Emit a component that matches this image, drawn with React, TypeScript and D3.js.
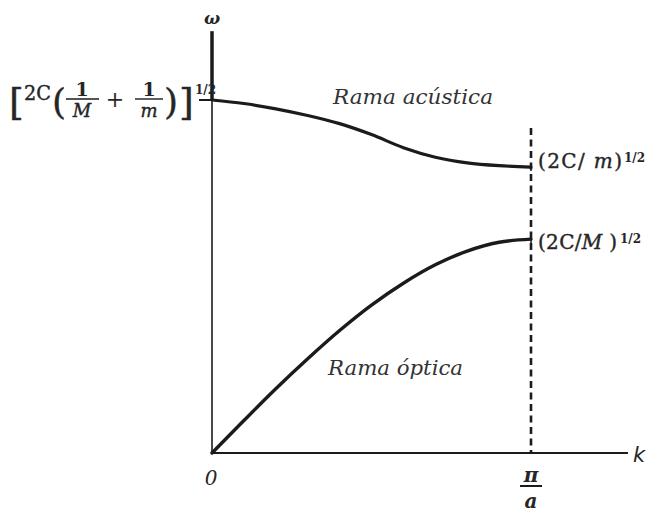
import React from "react";
import * as d3 from "d3";

// Wave number in units of pi/a, frequency in units of [2C(1/M+1/m)]^1/2
const kUpper = [0, 0.1, 0.2, 0.3, 0.4, 0.5, 0.6, 0.7, 0.8, 0.9, 1.0];
const wUpper = [1.0, 0.99, 0.975, 0.956, 0.933, 0.902, 0.865, 0.838, 0.822, 0.814, 0.81];

const kLower = [0, 0.1, 0.2, 0.3, 0.4, 0.5, 0.6, 0.7, 0.8, 0.9, 1.0];
const wLower = [0, 0.092, 0.182, 0.267, 0.347, 0.419, 0.481, 0.533, 0.572, 0.597, 0.606];

const branchLabels = ["Rama acústica", "Rama óptica"];
const xAxisMax = 1.304;
const yAxisMax = 1.195;
const kBoundary = 1.0;

const W = 652;
const H = 513;
const INK = "#1b1b1b";
const TXT = "#262626";
const serif = "'DejaVu Serif', serif";

export default function App() {
  const x = d3.scaleLinear().domain([0, 1]).range([212, 531]);
  const y = d3.scaleLinear().domain([0, 1]).range([453, 100]);

  const line = d3
    .line<[number, number]>()
    .x((d) => x(d[0]))
    .y((d) => y(d[1]))
    .curve(d3.curveCatmullRom.alpha(0.5));

  const upper = line(kUpper.map((k, i) => [k, wUpper[i]]) as [number, number][]) || "";
  const lower = line(kLower.map((k, i) => [k, wLower[i]]) as [number, number][]) || "";

  const x0 = x(0);
  const y0 = y(0);
  const xb = x(kBoundary);
  const yTop = y(yAxisMax);
  const yW1 = y(wUpper[0]);
  const yEndU = y(wUpper[wUpper.length - 1]);
  const yEndL = y(wLower[wLower.length - 1]);

  const heavy = { stroke: TXT, strokeWidth: 0.4 };

  return (
    <svg
      width={W}
      height={H}
      viewBox={`0 0 ${W} ${H}`}
      style={{ position: "absolute", left: 0, top: 0, display: "block", background: "#fff" }}
    >
      {/* axes */}
      <line x1={x0} y1={yTop} x2={x0} y2={yW1} stroke={INK} strokeWidth={3.5} />
      <line x1={x0} y1={yW1} x2={x0} y2={y0} stroke={INK} strokeWidth={1.6} />
      <line x1={x0 - 1} y1={y0} x2={x(xAxisMax)} y2={y0} stroke={INK} strokeWidth={2} />
      <line x1={199} y1={yW1} x2={x0} y2={yW1} stroke={INK} strokeWidth={2} />

      {/* zone boundary */}
      <line
        x1={xb}
        y1={128}
        x2={xb}
        y2={y0}
        stroke={INK}
        strokeWidth={2.6}
        strokeDasharray="7 4.5"
      />

      {/* branches */}
      <path d={upper} fill="none" stroke={INK} strokeWidth={3.2} strokeLinecap="round" />
      <path d={lower} fill="none" stroke={INK} strokeWidth={3.4} strokeLinecap="round" />
      <line x1={xb} y1={yEndU - 4} x2={xb} y2={yEndU + 4} stroke={INK} strokeWidth={1.5} />
      <line x1={xb} y1={yEndL - 4} x2={xb} y2={yEndL + 4} stroke={INK} strokeWidth={1.5} />

      {/* axis titles */}
      <text x={x0} y={24} textAnchor="middle" fontFamily={serif} fontStyle="italic" fontWeight="bold" fontSize={17} fill={TXT}>
        ω
      </text>
      <text x={639} y={462} textAnchor="middle" fontFamily="'DejaVu Sans', sans-serif" fontStyle="italic" fontWeight={300} fontSize={21} fill={TXT}>
        k
      </text>

      {/* k ticks */}
      <text x={x0 - 1} y={485} textAnchor="middle" fontFamily={serif} fontStyle="italic" fontSize={20} fill={TXT}>
        0
      </text>
      <text x={xb} y={482} textAnchor="middle" fontFamily={serif} fontStyle="italic" fontWeight="bold" fontSize={20} fill={TXT}>
        π
      </text>
      <line x1={xb - 11} y1={486} x2={xb + 11} y2={486} stroke={INK} strokeWidth={2} />
      <text x={xb} y={508} textAnchor="middle" fontFamily={serif} fontStyle="italic" fontWeight="bold" fontSize={20} fill={TXT}>
        a
      </text>

      {/* ω(0) label */}
      <g fontFamily={serif} fill={TXT}>
        <text x={9} y={115} fontSize={38} {...heavy}>[</text>
        <text x={24} y={100} fontSize={21} textLength={27} lengthAdjust="spacingAndGlyphs" {...heavy}>2C</text>
        <text x={52} y={114} fontSize={36} {...heavy}>(</text>
        <text x={82} y={96} textAnchor="middle" fontSize={19} fontWeight="bold">1</text>
        <line x1={66} y1={99} x2={99} y2={99} stroke={INK} strokeWidth={1.4} />
        <text x={82} y={117} textAnchor="middle" fontSize={18} fontStyle="italic" {...heavy}>M</text>
        <text x={115} y={107} textAnchor="middle" fontSize={22}>+</text>
        <text x={149} y={96} textAnchor="middle" fontSize={19} fontWeight="bold">1</text>
        <line x1={135} y1={99} x2={163} y2={99} stroke={INK} strokeWidth={1.4} />
        <text x={149} y={117} textAnchor="middle" fontSize={18} fontStyle="italic" {...heavy}>m</text>
        <text x={164} y={114} fontSize={36} {...heavy}>)</text>
        <text x={179} y={115} fontSize={38} {...heavy}>]</text>
        <text x={195} y={94} fontSize={12} fontWeight="bold">1/2</text>
      </g>

      {/* ω(π/a) labels */}
      <g fontFamily={serif} fill={TXT}>
        <text x={538} y={168} fontSize={20} textLength={84} lengthAdjust="spacing" {...heavy}>
          (2C/ <tspan fontStyle="italic">m</tspan>)
        </text>
        <text x={624} y={162} fontSize={12} fontWeight="bold">1/2</text>
        <text x={538} y={249} fontSize={20} textLength={79} lengthAdjust="spacing" {...heavy}>
          (2C/<tspan fontStyle="italic">M</tspan> )
        </text>
        <text x={620} y={243} fontSize={12} fontWeight="bold">1/2</text>
      </g>

      {/* branch names */}
      <text x={333} y={104} fontFamily={serif} fontStyle="italic" fontSize={20} fill="#333" textLength={160} lengthAdjust="spacingAndGlyphs">
        {branchLabels[0]}
      </text>
      <text x={328} y={375} fontFamily={serif} fontStyle="italic" fontSize={20} fill="#333" textLength={135} lengthAdjust="spacingAndGlyphs">
        {branchLabels[1]}
      </text>
    </svg>
  );
}
